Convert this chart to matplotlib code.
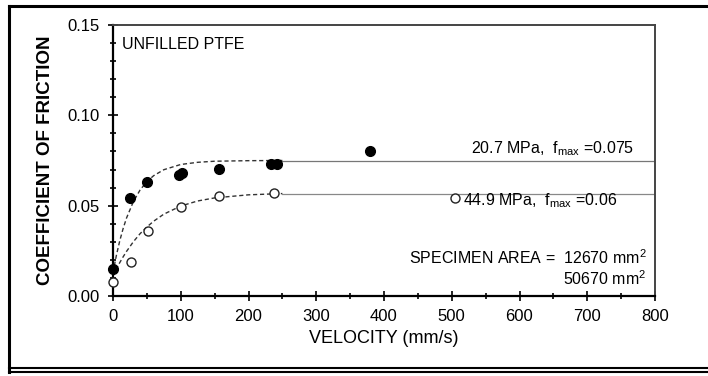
import matplotlib.pyplot as plt
from matplotlib.lines import Line2D
from matplotlib.ticker import MultipleLocator

plt.rcParams['font.family'] = ['Liberation Sans', 'DejaVu Sans']
plt.rcParams['mathtext.fontset'] = 'custom'
plt.rcParams['mathtext.rm'] = 'Liberation Sans'

# measured points, 20.7 MPa (filled) and 44.9 MPa (open)
v_filled = [0, 25, 50, 98, 102, 157, 233, 242, 379]
f_filled = [0.015, 0.054, 0.063, 0.067, 0.068, 0.0705, 0.073, 0.073, 0.080]
v_open = [0, 26, 51, 101, 157, 238, 505]
f_open = [0.008, 0.019, 0.036, 0.049, 0.0555, 0.057, 0.054]

# fitted curves
v_curve = [0, 5, 10, 15, 20, 30, 40, 50, 60, 75, 100, 125, 150, 200, 250]
f_curve_filled = [0.013, 0.0225, 0.0306, 0.0374, 0.0432, 0.0522, 0.0587, 0.0633,
                  0.0666, 0.0699, 0.0728, 0.0740, 0.0746, 0.0749, 0.075]
f_curve_open = [0.011, 0.0150, 0.0185, 0.0217, 0.0247, 0.0300, 0.0345, 0.0382,
                0.0414, 0.0453, 0.0498, 0.0526, 0.0543, 0.0560, 0.0567]
f_max_filled = 0.075
f_max_open = 0.0567

fig = plt.figure(figsize=(7.08, 3.76), dpi=100, facecolor='white')
ax = fig.add_axes([113/708, 80/376, 542/708, 271/376])

ax.plot(v_curve, f_curve_filled, color='#333333', lw=1.0, ls=(0, (3, 2)))
ax.plot(v_curve, f_curve_open, color='#333333', lw=1.0, ls=(0, (3, 2)))
ax.plot([v_curve[-1], 800], [f_max_filled, f_max_filled], color='#777777', lw=0.9)
ax.plot([v_curve[-1], 800], [f_max_open, f_max_open], color='#888888', lw=0.9)

ax.plot(v_filled, f_filled, 'o', ms=7, mfc='black', mec='black', ls='none', clip_on=False, zorder=5)
ax.plot(v_open, f_open, 'o', ms=6.5, mfc='white', mec='#222222', mew=1.0, ls='none', clip_on=False, zorder=4)

ax.set_xlim(0, 800)
ax.set_ylim(0, 0.15)
ax.xaxis.set_major_locator(MultipleLocator(100))
ax.xaxis.set_minor_locator(MultipleLocator(50))
ax.yaxis.set_major_locator(MultipleLocator(0.05))
ax.yaxis.set_minor_locator(MultipleLocator(0.01))
ax.yaxis.set_major_formatter(plt.FuncFormatter(lambda y, p: '%.2f' % y))
ax.tick_params(which='major', direction='inout', length=7, width=1.2, labelsize=12, pad=6)
ax.tick_params(which='minor', direction='inout', length=4, width=1.2)
for s in ['left', 'bottom']:
    ax.spines[s].set_linewidth(1.6)
for s in ['top', 'right']:
    ax.spines[s].set_linewidth(1.4)
    ax.spines[s].set_color('#444444')

ax.set_xlabel('VELOCITY (mm/s)', fontsize=13, labelpad=4)
ax.set_ylabel('COEFFICIENT OF FRICTION', fontsize=13.5, fontweight='bold', labelpad=10)

ax.text(14, 0.139, 'UNFILLED PTFE', fontsize=11.5, va='center')
ax.text(769, 0.0815, r'20.7 MPa,  f$_{\rm max}$ =0.075', fontsize=11.5, ha='right', va='center')
ax.text(516, 0.0525, r'44.9 MPa,  f$_{\rm max}$ =0.06', fontsize=11.5, ha='left', va='center')
ax.text(788, 0.0215, r'SPECIMEN AREA =  12670 mm$^{2}$', fontsize=11.5, ha='right', va='center')
ax.text(788, 0.0098, r'50670 mm$^{2}$', fontsize=11.5, ha='right', va='center')

# outer frame of the scanned figure
fig.add_artist(Line2D([9/708, 9/708], [1 - 6/376, 1 - 372/376], color='black', lw=2.2, transform=fig.transFigure))
fig.add_artist(Line2D([9/708, 1], [1 - 6/376, 1 - 6/376], color='black', lw=2.2, transform=fig.transFigure))
fig.add_artist(Line2D([9/708, 1], [1 - 368/376, 1 - 368/376], color='black', lw=1.5, transform=fig.transFigure))
fig.add_artist(Line2D([9/708, 1], [1 - 372/376, 1 - 372/376], color='black', lw=1.5, transform=fig.transFigure))

plt.savefig('out.png', dpi=100)
